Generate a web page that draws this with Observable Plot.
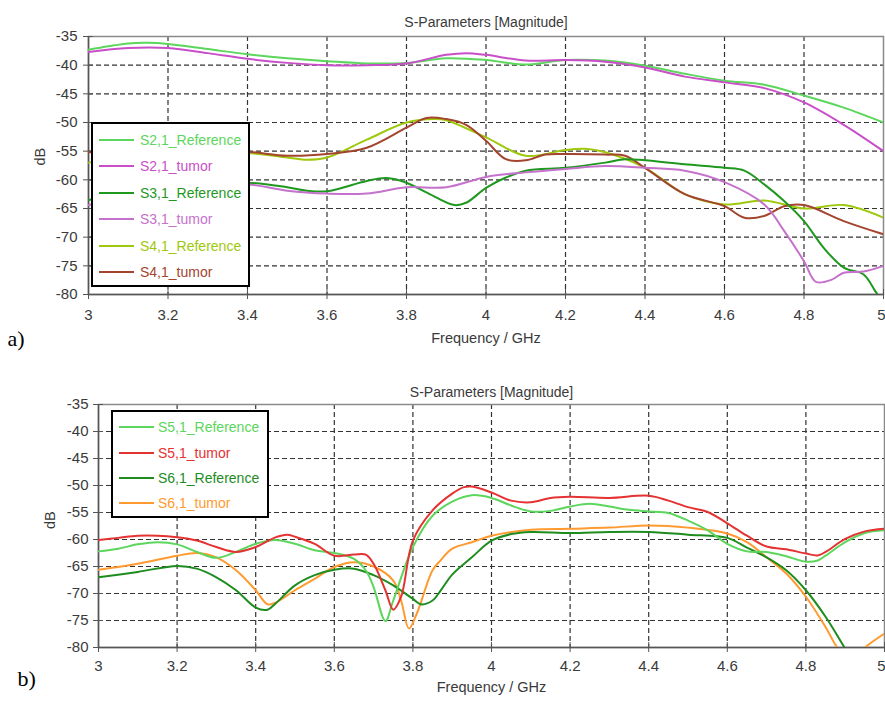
<!DOCTYPE html>
<html>
<head>
<meta charset="utf-8">
<script src="https://cdn.jsdelivr.net/npm/d3@7"></script>
<script src="https://cdn.jsdelivr.net/npm/@observablehq/plot@0.6"></script>
<style>
  html, body { margin: 0; padding: 0; background: #fff; }
  #wrap { position: relative; width: 885px; height: 706px; overflow: hidden; }
  #wrap svg { display: block; }
  .legend { position: absolute; box-sizing: border-box; border: 2px solid #000; background: #fff;
            font-family: "Liberation Sans", Arial, sans-serif; font-size: 14px; }
  .legend .row { position: absolute; height: 18px; line-height: 18px; white-space: nowrap; }
  .legend .sw { position: absolute; top: 8px; height: 2px; }
</style>
</head>
<body>
<div id="wrap"></div>
<script>
// ---- tick labels ----
const freqTicks = [3, 3.2, 3.4, 3.6, 3.8, 4, 4.2, 4.4, 4.6, 4.8, 5];
const dbTicks = [-35, -40, -45, -50, -55, -60, -65, -70, -75, -80];

// ---- panel a) series: [frequency GHz, dB] ----
const s21Reference = [[3.0,-37.3],[3.05,-36.7],[3.1,-36.2],[3.15,-36.1],[3.2,-36.3],[3.3,-37.2],[3.4,-38.1],[3.5,-38.8],[3.6,-39.3],[3.7,-39.7],[3.8,-39.6],[3.9,-38.8],[4.0,-39.1],[4.1,-39.9],[4.2,-39.1],[4.3,-39.2],[4.4,-40.1],[4.5,-41.5],[4.6,-42.7],[4.7,-43.4],[4.8,-45.3],[4.9,-47.4],[5.0,-50]];
const s21Tumor = [[3.0,-37.7],[3.1,-37.0],[3.2,-37.0],[3.3,-37.9],[3.4,-38.9],[3.5,-39.6],[3.6,-40.0],[3.7,-40.0],[3.8,-39.7],[3.9,-38.2],[3.95,-37.9],[4.0,-38.2],[4.1,-39.2],[4.2,-39.1],[4.3,-39.4],[4.4,-40.4],[4.5,-42.0],[4.6,-43.0],[4.7,-44.0],[4.8,-46.5],[4.9,-50.4],[5.0,-55]];
const s31Reference = [[3.0,-63.5],[3.1,-62.5],[3.2,-61.5],[3.3,-61],[3.4,-60.5],[3.5,-61.3],[3.55,-61.9],[3.6,-62],[3.7,-60.2],[3.75,-59.7],[3.8,-60.5],[3.85,-62.2],[3.92,-64.4],[3.95,-64],[4.0,-61.4],[4.05,-59.6],[4.1,-58.4],[4.2,-57.9],[4.3,-57],[4.35,-56.4],[4.4,-56.6],[4.5,-57.3],[4.6,-57.9],[4.65,-58.4],[4.7,-60.8],[4.75,-63.7],[4.8,-67.2],[4.85,-71.9],[4.9,-75.3],[4.95,-76.5],[4.98,-79.5],[5.0,-81.5]];
const s31Tumor = [[3.0,-64.4],[3.1,-63],[3.2,-62],[3.3,-61.2],[3.4,-60.8],[3.5,-61.9],[3.6,-62.4],[3.7,-62.4],[3.8,-61.3],[3.9,-61.3],[4.0,-59.5],[4.1,-58.7],[4.2,-58.1],[4.3,-57.6],[4.4,-57.9],[4.5,-58.4],[4.6,-60.4],[4.7,-64.3],[4.75,-68.9],[4.8,-74.2],[4.83,-77.8],[4.87,-77.4],[4.9,-76.2],[4.95,-76],[5.0,-75]];
const s41Reference = [[3.0,-57],[3.1,-56],[3.2,-55.5],[3.3,-55.2],[3.4,-55.3],[3.5,-56.1],[3.55,-56.5],[3.6,-56.1],[3.7,-53],[3.8,-50],[3.87,-49.4],[3.9,-49.6],[4.0,-52.6],[4.1,-55.8],[4.2,-54.8],[4.25,-54.6],[4.3,-55.2],[4.4,-57.9],[4.5,-62.5],[4.6,-64.3],[4.7,-63.6],[4.8,-65],[4.9,-64.4],[5.0,-66.6]];
const s41Tumor = [[3.0,-55.2],[3.1,-55],[3.2,-55],[3.3,-55],[3.4,-55.1],[3.5,-55.8],[3.6,-55.5],[3.7,-54.4],[3.8,-50.9],[3.85,-49.2],[3.9,-49.4],[3.95,-50.4],[4.0,-53.2],[4.05,-56.4],[4.1,-56.6],[4.15,-55.6],[4.2,-55.5],[4.3,-55.6],[4.35,-55.8],[4.4,-57.9],[4.5,-62.5],[4.6,-64.6],[4.65,-66.6],[4.7,-66.3],[4.75,-64.6],[4.8,-64.4],[4.9,-67.2],[5.0,-69.5]];

// ---- panel b) series ----
const s51Reference = [[3.0,-62.2],[3.05,-61.7],[3.1,-60.9],[3.15,-60.5],[3.2,-60.9],[3.25,-62.3],[3.3,-63.4],[3.35,-62.3],[3.4,-60.8],[3.45,-60.1],[3.5,-60.8],[3.55,-62],[3.6,-62.5],[3.65,-63.6],[3.68,-65.7],[3.7,-68.8],[3.73,-75.1],[3.75,-71.3],[3.8,-61.4],[3.85,-55.6],[3.9,-53],[3.95,-51.8],[4.0,-52.3],[4.05,-53.7],[4.1,-54.8],[4.15,-54.7],[4.2,-53.9],[4.25,-53.4],[4.3,-53.9],[4.35,-54.5],[4.4,-54.8],[4.45,-55.1],[4.5,-56.5],[4.55,-58.3],[4.6,-60.8],[4.65,-62.2],[4.7,-62.3],[4.75,-63.1],[4.8,-64.1],[4.83,-63.9],[4.85,-63],[4.9,-60.5],[4.95,-58.8],[5.0,-58.3]];
const s51Tumor = [[3.0,-60.1],[3.05,-59.7],[3.1,-59.3],[3.15,-59.3],[3.2,-59.6],[3.25,-60.2],[3.3,-61.4],[3.35,-62.3],[3.4,-61.4],[3.45,-59.6],[3.48,-59.1],[3.5,-59.5],[3.55,-60.8],[3.6,-63],[3.65,-62.8],[3.68,-62.8],[3.7,-64.5],[3.73,-69.4],[3.75,-73],[3.77,-70.6],[3.8,-60.2],[3.85,-54.6],[3.9,-51.5],[3.93,-50.3],[3.95,-50.2],[4.0,-51.3],[4.05,-52.8],[4.1,-53.1],[4.15,-52.3],[4.2,-52.1],[4.3,-52.3],[4.4,-51.9],[4.45,-52.8],[4.5,-54],[4.55,-54.9],[4.6,-57],[4.65,-59.3],[4.7,-61.3],[4.75,-61.8],[4.8,-62.6],[4.83,-62.95],[4.85,-62.3],[4.9,-59.9],[4.95,-58.5],[5.0,-58]];
const s61Reference = [[3.0,-67],[3.1,-66],[3.2,-64.9],[3.25,-65.4],[3.3,-67],[3.35,-69.4],[3.4,-72.6],[3.43,-73],[3.45,-71.9],[3.5,-68.5],[3.55,-66.6],[3.6,-65.6],[3.65,-65.4],[3.7,-66.6],[3.75,-68.5],[3.8,-71],[3.82,-72],[3.85,-71.3],[3.87,-69.5],[3.9,-66.5],[3.95,-63.3],[4.0,-60.2],[4.05,-59],[4.1,-58.6],[4.2,-58.8],[4.3,-58.6],[4.4,-58.6],[4.5,-59.1],[4.6,-59.7],[4.65,-61.5],[4.7,-63.3],[4.75,-65.7],[4.8,-69.4],[4.85,-74.3],[4.9,-80.2],[4.95,-86]];
const s61Tumor = [[3.0,-65.6],[3.1,-64.5],[3.2,-63],[3.25,-62.5],[3.3,-63.3],[3.35,-65.7],[3.4,-69.4],[3.43,-72],[3.45,-71.7],[3.5,-69.4],[3.55,-67.3],[3.6,-65.1],[3.65,-64.2],[3.7,-65],[3.75,-67.6],[3.77,-71.3],[3.79,-76.5],[3.81,-73.7],[3.85,-65.7],[3.87,-63.9],[3.9,-61.7],[3.95,-60.5],[4.0,-59.3],[4.1,-58.2],[4.2,-58],[4.3,-57.8],[4.4,-57.4],[4.5,-57.8],[4.6,-58.9],[4.65,-60.5],[4.7,-63.3],[4.75,-66.3],[4.8,-70.6],[4.85,-76.2],[4.88,-80],[4.915,-82.5],[4.95,-80],[5.0,-77.4]];

// ---- series names and colours ----
const namesA = ["S2,1_Reference", "S2,1_tumor", "S3,1_Reference", "S3,1_tumor", "S4,1_Reference", "S4,1_tumor"];
const colorsA = ["#5cd65c", "#c94fc9", "#1f981f", "#c572cc", "#9ec80c", "#a3452e"];
const dataA = [s21Reference, s21Tumor, s31Reference, s31Tumor, s41Reference, s41Tumor];
const drawOrderA = [4, 5, 2, 3, 0, 1];

const namesB = ["S5,1_Reference", "S5,1_tumor", "S6,1_Reference", "S6,1_tumor"];
const colorsB = ["#5cd65c", "#e53232", "#1e8c1e", "#ff9a30"];
const dataB = [s51Reference, s51Tumor, s61Reference, s61Tumor];
const drawOrderB = [3, 2, 0, 1];

const titleText = "S-Parameters [Magnitude]";
const xLabel = "Frequency / GHz";
const yLabel = "dB";

function panel(o) {
  const lines = o.order.map(i => Plot.line(o.data[i], {
    x: d => d[0], y: d => d[1], stroke: o.colors[i], strokeWidth: 2,
    curve: "catmull-rom", clip: true
  }));
  const axisStroke = "#555";
  const gridStyle = {stroke: "#333", strokeOpacity: 1, strokeWidth: 1.2, strokeDasharray: "5,3"};
  const lastTick = freqTicks[freqTicks.length - 1];
  return Plot.plot({
    width: 885, height: o.height,
    marginTop: o.mt, marginBottom: o.mb, marginLeft: o.ml, marginRight: o.mr,
    x: {domain: [3, 5]},
    y: {domain: [-80, -35]},
    style: {fontFamily: "'Liberation Sans', Arial, sans-serif", fontSize: "15px", color: "#3a3a3a", background: "#fff", overflow: "visible"},
    marks: [
      Plot.gridX(freqTicks.slice(1, -1), gridStyle),
      Plot.gridY(dbTicks.slice(1, -1), gridStyle),
      Plot.frame({stroke: "#8a8a8a", strokeWidth: 1.5}),
      Plot.ruleX([3], {stroke: axisStroke, strokeWidth: 1.5}),
      Plot.ruleY([-80], {stroke: axisStroke, strokeWidth: 1.5}),
      Plot.axisX(freqTicks, {tickSize: 5, tickPadding: o.xpad, label: null, tickFormat: d => d === lastTick ? "" : String(d), stroke: axisStroke, fontSize: 15}),
      Plot.axisX(freqTicks, {tickSize: 5, label: null, tickFormat: () => "", dy: -5, stroke: axisStroke}),
      Plot.text([lastTick], {x: d => d, frameAnchor: "bottom", lineAnchor: "top", textAnchor: "end", dx: o.mr, dy: 5 + o.xpad, fontSize: 15, fill: "#3a3a3a", text: d => String(d)}),
      Plot.axisY(dbTicks, {tickSize: 5, tickPadding: o.ypad, label: null, tickFormat: d => String(d), stroke: axisStroke, fontSize: 15}),
      Plot.axisY(dbTicks, {tickSize: 5, label: null, tickFormat: () => "", dx: 5, stroke: axisStroke}),
      ...lines,
      Plot.text([titleText], {frameAnchor: "top", dy: o.titleDy, fontSize: 14, fill: "#3a3a3a"}),
      Plot.text([xLabel], {frameAnchor: "bottom", dy: o.xlabDy, fontSize: 14.5, fill: "#3a3a3a"}),
      Plot.text([yLabel], {frameAnchor: "left", dx: -48, dy: o.ylabDy, rotate: -90, fontSize: 14.5, fill: "#3a3a3a"}),
      Plot.text([o.tag], {frameAnchor: "bottom-left", dx: -81, dy: o.tagDy, textAnchor: "start", fontFamily: "'Liberation Serif', 'Times New Roman', serif", fontSize: 22, fill: "#000"})
    ]
  });
}

const wrap = document.getElementById("wrap");
wrap.appendChild(panel({data: dataA, colors: colorsA, order: drawOrderA, height: 370, mt: 36, mb: 76, ml: 88, mr: 2, xpad: 10, ypad: 6, titleDy: -19, xlabDy: 48, ylabDy: 0, tag: "a)", tagDy: 51}));
wrap.appendChild(panel({data: dataB, colors: colorsB, order: drawOrderB, height: 336, mt: 34, mb: 59, ml: 98, mr: 1, xpad: 8, ypad: 5, titleDy: -17, xlabDy: 44, ylabDy: 3, tag: "b)", tagDy: 38}));

function legend(names, colors, box, rows, lineX, textX) {
  const el = document.createElement("div");
  el.className = "legend";
  Object.assign(el.style, {left: box[0] + "px", top: box[1] + "px", width: box[2] + "px", height: box[3] + "px"});
  names.forEach((n, i) => {
    const r = document.createElement("div");
    r.className = "row";
    r.style.top = (rows[i] - 9) + "px";
    r.style.left = "0px";
    r.style.width = "100%";
    const sw = document.createElement("div");
    sw.className = "sw";
    Object.assign(sw.style, {left: lineX[0] + "px", width: (lineX[1] - lineX[0]) + "px", background: colors[i]});
    const t = document.createElement("span");
    t.textContent = n;
    Object.assign(t.style, {position: "absolute", left: textX + "px", color: colors[i]});
    r.appendChild(sw); r.appendChild(t);
    el.appendChild(r);
  });
  wrap.appendChild(el);
}
legend(namesA, colorsA, [91, 122, 159, 165], [16, 42, 69, 95, 122, 148], [6, 41], 47);
legend(namesB, colorsB, [111, 410, 158, 108], [15, 41, 66, 91], [6, 41], 45);
</script>
</body>
</html>
